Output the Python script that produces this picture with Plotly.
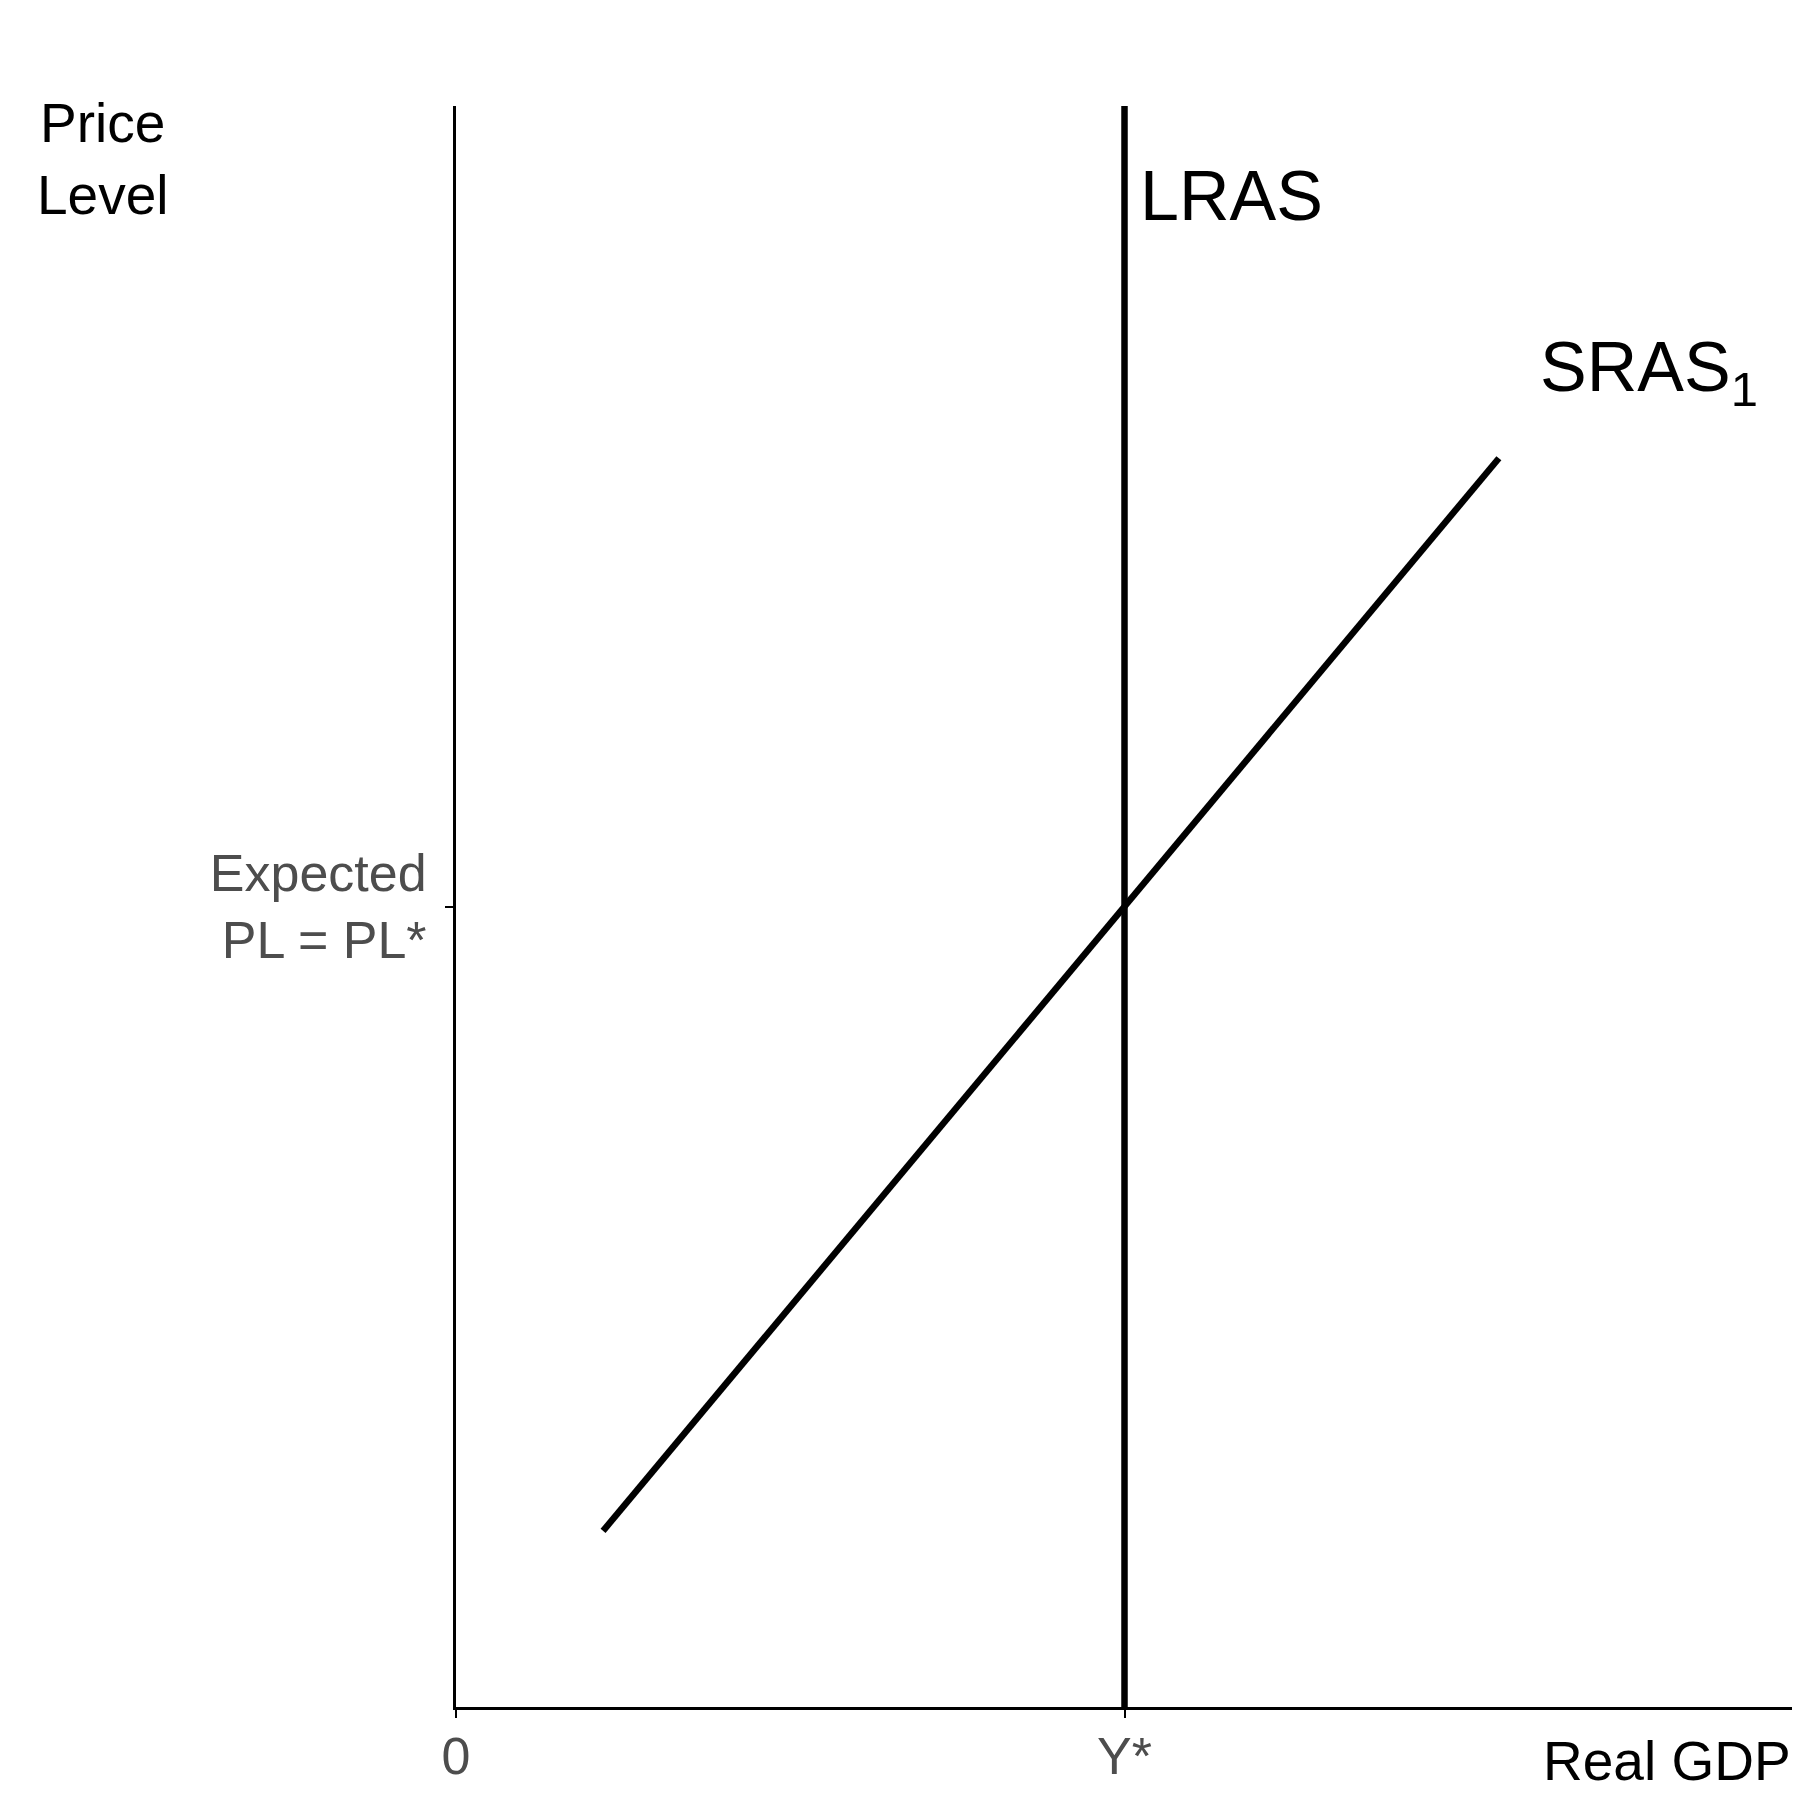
import plotly.graph_objects as go

lras_x = [5, 5]
lras_y = [0, 10]
sras_x = [1.1, 7.8]
sras_y = [1.1, 7.8]
xtick_vals = [0, 5]
xtick_text = ["0", "Y*"]
ytick_vals = [5]
ytick_text = ["Expected<br>PL = PL*"]

fig = go.Figure()
fig.add_trace(go.Scatter(x=lras_x, y=lras_y, mode="lines", line=dict(color="black", width=6.5), showlegend=False))
fig.add_trace(go.Scatter(x=sras_x, y=sras_y, mode="lines", line=dict(color="black", width=6.5), showlegend=False))

F = "Liberation Sans, Arial, sans-serif"
fig.update_layout(
    width=1800, height=1800, plot_bgcolor="white", paper_bgcolor="white",
    margin=dict(l=448, r=15, t=98, b=101),
    font=dict(family=F),
    xaxis=dict(range=[0, 10], showgrid=False, zeroline=False, showline=True, linecolor="black", linewidth=3,
               tickvals=xtick_vals, ticktext=xtick_text, ticks="outside", ticklen=8, tickwidth=2, tickcolor="black",
               tickfont=dict(size=52, color="#4d4d4d"), ticklabelstandoff=-6),
    yaxis=dict(range=[0, 10], showgrid=False, zeroline=False, showline=True, linecolor="black", linewidth=3,
               tickvals=ytick_vals, ticktext=ytick_text, ticks="outside", ticklen=8, tickwidth=2, tickcolor="black",
               tickfont=dict(size=52, color="#4d4d4d"), ticklabelstandoff=8),
    annotations=[
        dict(x=5.1, y=9.44, text="LRAS", showarrow=False, xanchor="left", yanchor="middle", font=dict(size=70, color="black")),
        dict(x=8.09, y=8.34, text="SRAS<sub>1</sub>", showarrow=False, xanchor="left", yanchor="middle", font=dict(size=70, color="black")),
        dict(x=-0.214, y=0.967, xref="paper", yref="paper", text="Price<br>Level", showarrow=False, xanchor="right", yanchor="middle", align="center", font=dict(size=55, color="black")),
        dict(x=1.0, y=-0.034, xref="paper", yref="paper", text="Real GDP", showarrow=False, xanchor="right", yanchor="middle", font=dict(size=55, color="black")),
    ],
)
fig.write_html("out.html")
